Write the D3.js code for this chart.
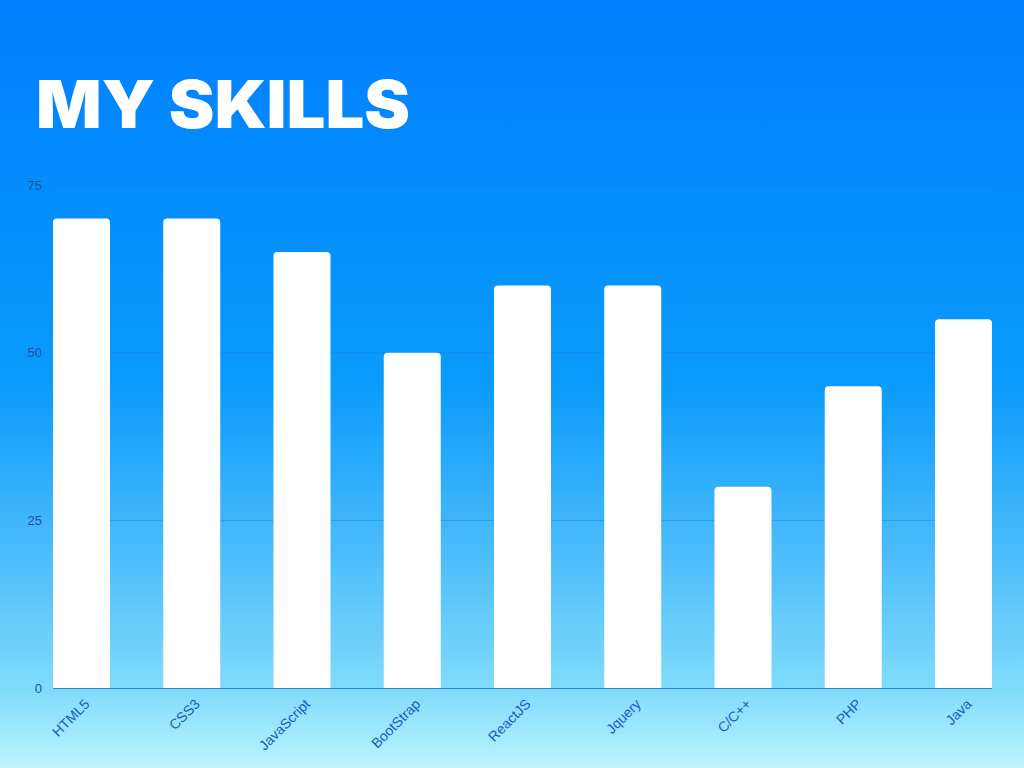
<!DOCTYPE html>
<html>
<head>
<meta charset="utf-8">
<script src="https://cdn.jsdelivr.net/npm/d3@7"></script>
<style>
html,body{margin:0;padding:0;overflow:hidden;}
svg{display:block;}
</style>
</head>
<body>
<script>
const categories = ["HTML5","CSS3","JavaScript","BootStrap","ReactJS","Jquery","C/C++","PHP","Java"];
const values = [70,70,65,50,60,60,30,45,55];
const yTicks = [0,25,50,75];
const title = "MY SKILLS";

const W = 1024, H = 768;
const svg = d3.select("body").append("svg").attr("width", W).attr("height", H);

const defs = svg.append("defs");
const grad = defs.append("linearGradient").attr("id","bg").attr("x1",0).attr("y1",0).attr("x2",0).attr("y2",1);
[[0,"#007eff"],[0.3,"#0590fd"],[0.5,"#0a9bfb"],[0.72,"#4cbcfa"],[0.9,"#80dcfb"],[1,"#bcf4fe"]].forEach(s=>{
  grad.append("stop").attr("offset",s[0]).attr("stop-color",s[1]);
});
svg.append("rect").attr("width",W).attr("height",H).attr("fill","url(#bg)");

const x = d3.scaleBand().domain(categories).range([53, 992]).paddingInner(0.483).paddingOuter(0);
const y = d3.scaleLinear().domain([0,75]).range([688,185]);

// gridlines
svg.append("g").selectAll("line").data(yTicks.filter(d=>d>0)).join("line")
  .attr("x1",53).attr("x2",992).attr("y1",d=>y(d)).attr("y2",d=>y(d))
  .attr("stroke","#1f7fe0").attr("stroke-opacity",0.55).attr("stroke-width",1);

// y labels
svg.append("g").selectAll("text").data(yTicks).join("text")
  .attr("x",42).attr("y",d=>y(d)).attr("dy","0.35em").attr("text-anchor","end")
  .attr("font-family","Liberation Sans, Arial, sans-serif").attr("font-size",13)
  .attr("fill","#1a4f9c").text(d=>d);

// bars with rounded top corners
const r = 4;
svg.append("g").selectAll("path").data(categories).join("path")
  .attr("fill","#ffffff")
  .attr("d",(d,i)=>{
    const x0 = x(d), w = x.bandwidth(), y0 = y(values[i]), yb = y(0);
    return `M${x0},${yb}V${y0+r}Q${x0},${y0} ${x0+r},${y0}H${x0+w-r}Q${x0+w},${y0} ${x0+w},${y0+r}V${yb}Z`;
  });

// baseline
svg.append("line").attr("x1",53).attr("x2",992).attr("y1",y(0)+0.5).attr("y2",y(0)+0.5)
  .attr("stroke","#2f7fd6").attr("stroke-width",1);

// x labels
svg.append("g").selectAll("text").data(categories).join("text")
  .attr("transform",d=>`translate(${x(d)+x.bandwidth()/2+9},${705}) rotate(-45)`)
  .attr("text-anchor","end")
  .attr("font-family","Liberation Sans, Arial, sans-serif").attr("font-size",14)
  .attr("fill","#1b5bc4").text(d=>d);

// title
svg.append("text").attr("x",36).attr("y",128)
  .attr("font-family","Inter, sans-serif").attr("font-weight",900)
  .attr("font-size",66).attr("fill","#ffffff")
  .attr("textLength",374).attr("lengthAdjust","spacingAndGlyphs")
  .text(title);
</script>
</body>
</html>
